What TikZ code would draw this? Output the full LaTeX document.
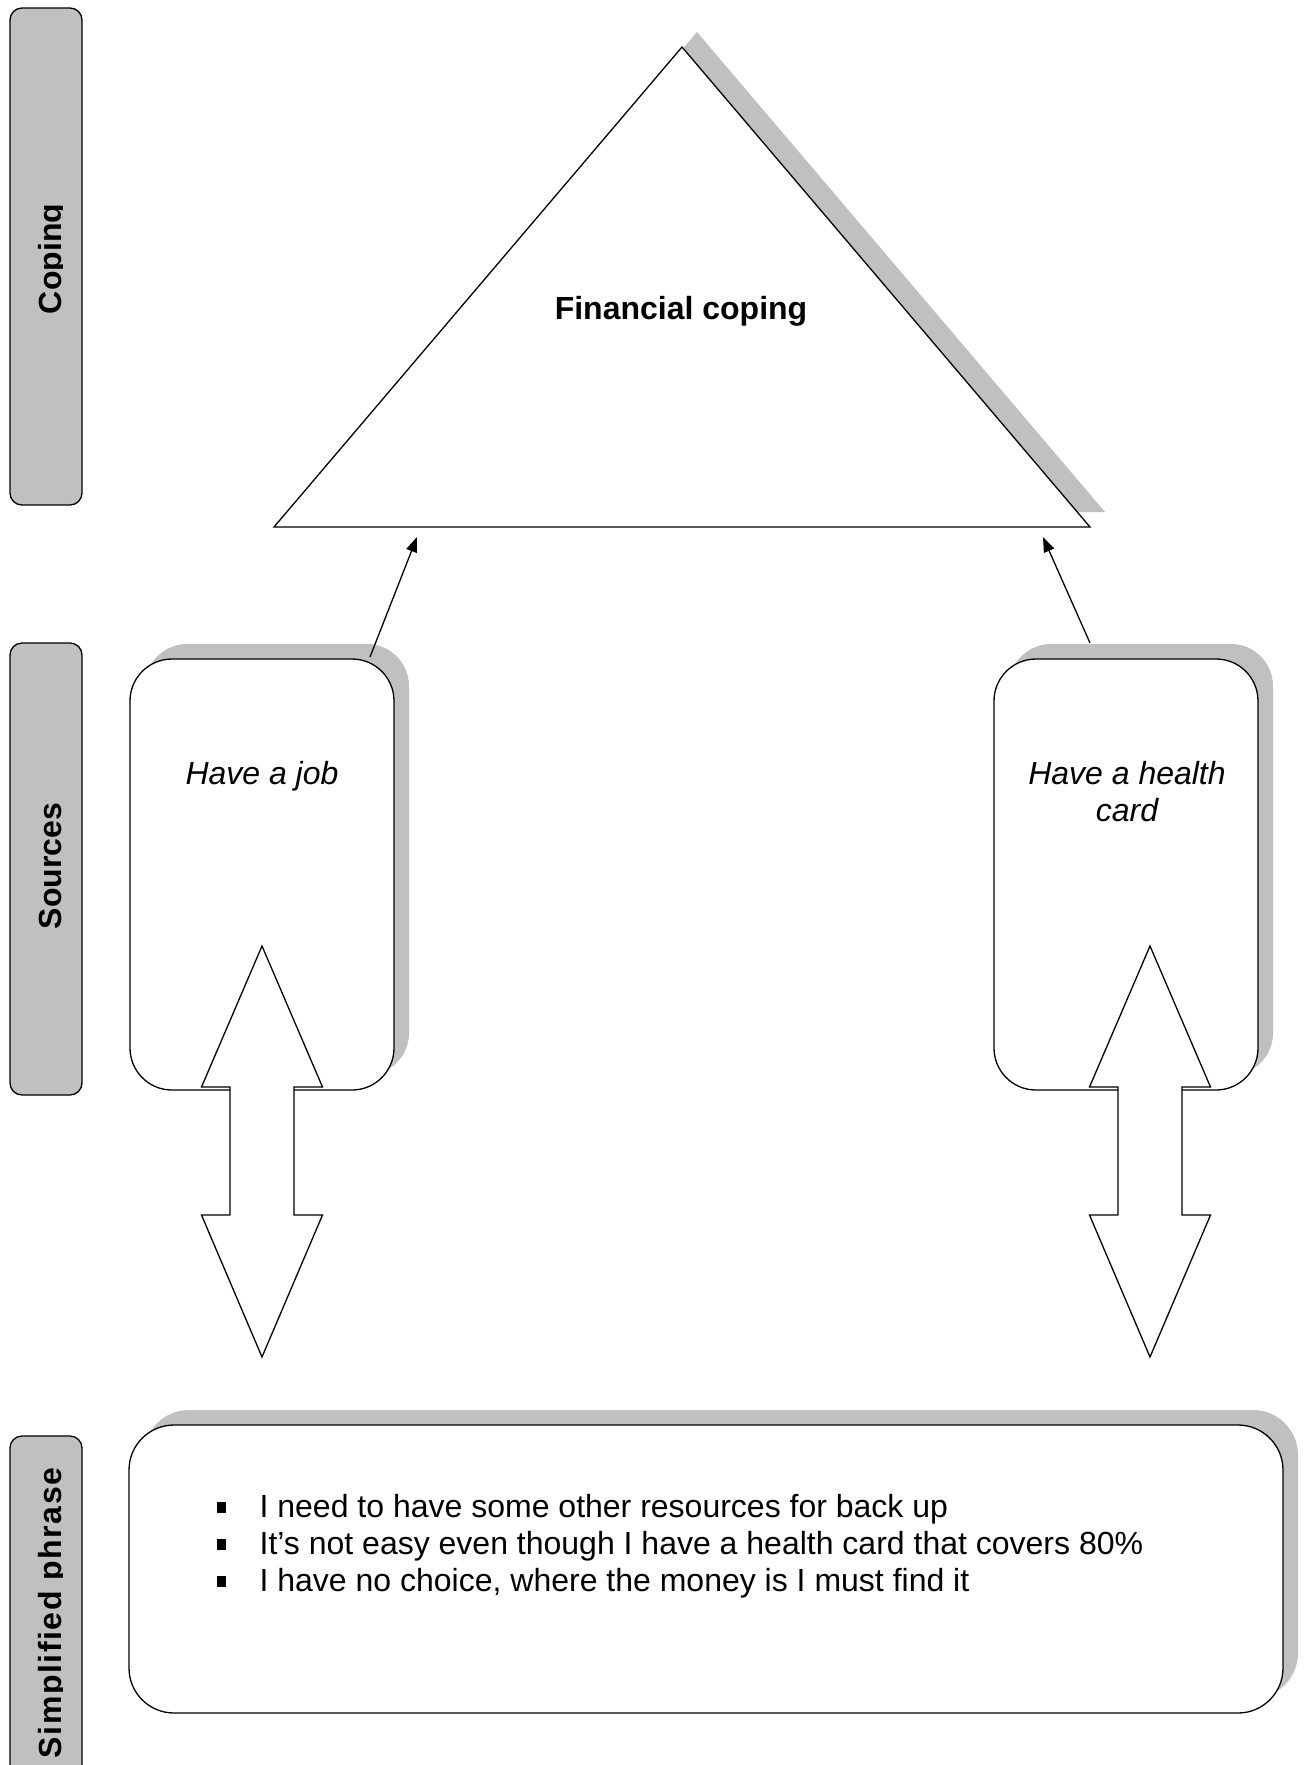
\documentclass[tikz,border=0pt]{standalone}
\usepackage{fontspec}
\setmainfont{Liberation Sans}
\usetikzlibrary{arrows.meta}
\definecolor{shadowgray}{HTML}{C0C0C0}
\begin{document}
\begin{tikzpicture}[x=1pt,y=-1pt,
  line width=1.3pt,
  lbl/.style={font=\fontsize{32}{36.8}\selectfont, inner sep=0pt},
  boldlbl/.style={font=\bfseries\fontsize{32}{36.8}\selectfont, inner sep=0pt},
  itlbl/.style={font=\itshape\fontsize{32}{36.8}\selectfont, inner sep=0pt, align=center},
  bar/.style={draw=black, fill=shadowgray, rounded corners=12pt, minimum width=72pt, inner sep=0pt},
  card/.style={draw=black, fill=white, rounded corners=42pt, inner sep=0pt},
  cardshadow/.style={fill=shadowgray, draw=none, rounded corners=42pt, inner sep=0pt},
  conn/.style={-{Triangle[length=15pt,width=11pt]}, line width=1.3pt},
  dbl/.style={draw=black, fill=white, line join=miter},
]
\useasboundingbox (0,0) rectangle (1306,1765);
\clip (0,0) rectangle (1306,1765);

% ---- triangle (Financial coping)
\coordinate (apex) at (682,47);
\coordinate (tl) at (274,527);
\coordinate (tr) at (1090,527);
\fill[shadowgray] ([shift={(15,-15)}]apex) -- ([shift={(15,-15)}]tl) -- ([shift={(15,-15)}]tr) -- cycle;
\draw[fill=white, line join=miter] (apex) -- (tl) -- (tr) -- cycle;
\node[boldlbl, anchor=base] (fin) at (681,319) {Financial coping};

% ---- source boxes
\node[cardshadow, minimum width=264pt, minimum height=431pt] (jobsh) at (277,859.5) {};
\node[card, minimum width=264pt, minimum height=431pt] (job) at (262,874.5) {};
\node[cardshadow, minimum width=264pt, minimum height=431pt] (cardsh) at (1141,859.5) {};
\node[card, minimum width=264pt, minimum height=431pt] (health) at (1126,874.5) {};
\node[itlbl, anchor=base] (jobtxt) at (262,784) {Have a job};
\node[itlbl, anchor=base] (healthtxt1) at (1127,784) {Have a health};
\node[itlbl, anchor=base] (healthtxt2) at (1127,821) {card};

% ---- connectors to triangle
\coordinate (s1) at (370,657);
\coordinate (e1) at (417,537);
\coordinate (s2) at (1090,643);
\coordinate (e2) at (1043,537);
\draw[conn] (s1) -- (e1);
\draw[conn] (s2) -- (e2);

% ---- double arrows
\foreach \cx/\nm in {262/dl,1150/dr}{
  \begin{scope}[shift={(\cx,0)}]
    \draw[dbl] (0,946) -- (60.5,1087) -- (32,1087) -- (32,1215) -- (60.5,1215)
      -- (0,1357) -- (-60.5,1215) -- (-32,1215) -- (-32,1087) -- (-60.5,1087) -- cycle;
    \coordinate (\nm) at (0,1150);
  \end{scope}
}

% ---- bottom phrase box
\node[cardshadow, rounded corners=45pt, minimum width=1154pt, minimum height=288pt] (phrsh) at (721,1554) {};
\node[card, rounded corners=45pt, minimum width=1154pt, minimum height=288pt] (phrase) at (706,1569) {};
\node[lbl, anchor=base west] (b1) at (216,1517) {\makebox[43pt][l]{\rule[4pt]{9pt}{11pt}}I need to have some other resources for back up};
\node[lbl, anchor=base west] (b2) at (216,1554) {\makebox[43pt][l]{\rule[4pt]{9pt}{11pt}}It’s not easy even though I have a health card that covers 80\%};
\node[lbl, anchor=base west] (b3) at (216,1591) {\makebox[43pt][l]{\rule[4pt]{9pt}{11pt}}I have no choice, where the money is I must find it};

% ---- side bars
\node[bar, minimum height=497pt] (barcoping) at (46,256.5) {};
\node[bar, minimum height=452pt] (barsources) at (46,869) {};
\node[bar, minimum height=380pt] (barphrase) at (46,1626) {};
\begin{scope}
  \clip (0,0) rectangle (62.5,1765);
  \node[boldlbl, rotate=90, anchor=base] (tcoping) at (61,259) {Coping};
  \node[boldlbl, rotate=90, anchor=base] (tsources) at (61,866) {Sources};
  \node[boldlbl, rotate=90, anchor=base] (tphrase) at (61,1613) {\addfontfeatures{LetterSpace=5}Simplified phrase};
\end{scope}
\end{tikzpicture}
\end{document}
